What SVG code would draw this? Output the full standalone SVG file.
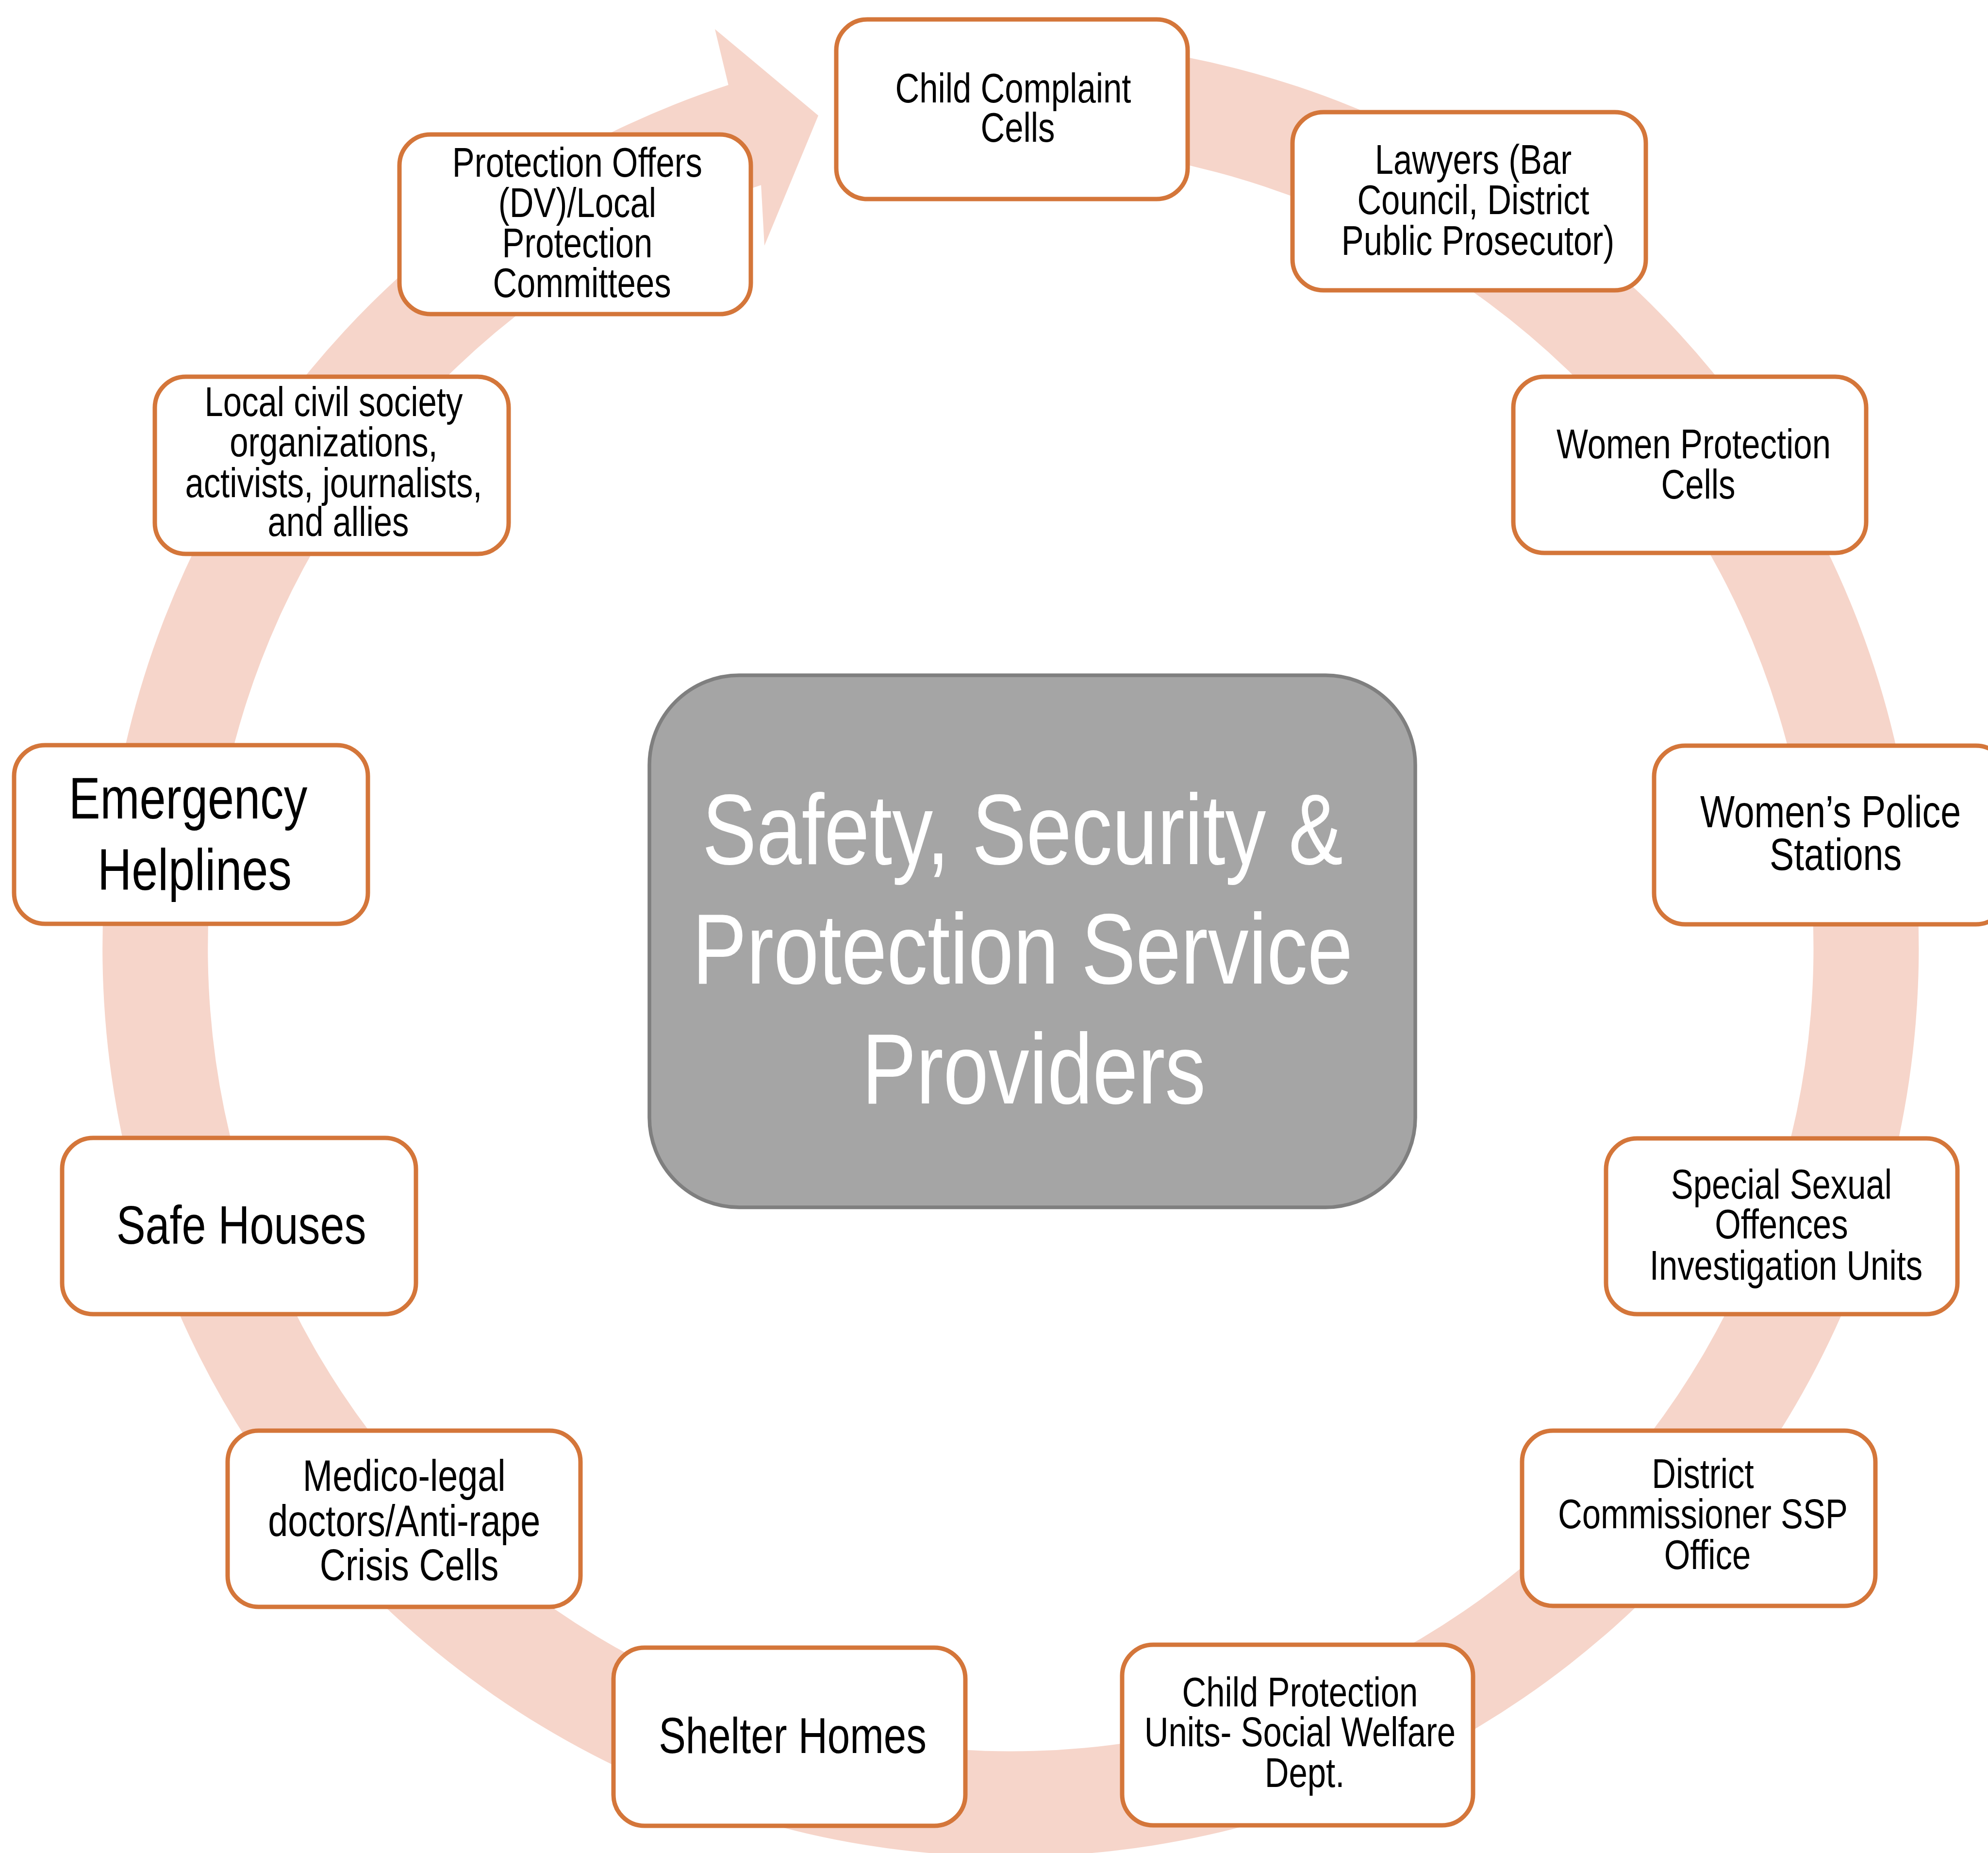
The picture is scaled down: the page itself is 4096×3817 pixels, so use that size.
<svg xmlns="http://www.w3.org/2000/svg" width="4096" height="3817" viewBox="0 0 4096 3817">
  <style>
    .box { fill: #ffffff; stroke: #D4763A; stroke-width: 9; }
    .hub { fill: #A5A5A5; stroke: #7F7F7F; stroke-width: 7.5; }
    .ring { fill: #F6D5CA; stroke: none; }
    .t { font-family: "Liberation Sans", Arial, sans-serif; fill: #000000; text-anchor: middle; font-size: 85px; }
    .hubt { font-family: "Liberation Sans", Arial, sans-serif; fill: #ffffff; text-anchor: middle; font-size: 207px; }
  </style>
  <rect x="0" y="0" width="4096" height="3817" fill="#ffffff"/>

  <!-- circular arrow running clockwise round the hub -->
  <g id="connectors">
    <path class="ring" d="M 1854.0 96.3 A 1871.1 1871.1 0 1 1 1500.7 175.0 L 1473 60 L 1686 238 L 1575 506 L 1568.1 381.3 A 1654.1 1654.1 0 1 0 1880.4 311.7 Z"/>
  </g>

  <!-- central hub -->
  <g id="hub">
    <rect class="hub" x="1338" y="1391" width="1578" height="1096" rx="185"/>
    <text class="hubt" transform="translate(2130 0) scale(0.81 1)">
      <tspan x="0" y="1780">Safety, Security &amp;</tspan>
      <tspan x="0" y="2026">Protection Service</tspan>
      <tspan x="0" y="2273">Providers</tspan>
    </text>
  </g>

  <g id="child-complaint-cells">
    <rect class="box" x="1723" y="40" width="724" height="370" rx="64"/>
    <text class="t" transform="translate(2097 0) scale(0.81 1)">
      <tspan x="0" y="211">Child Complaint</tspan>
      <tspan x="0" y="292">Cells</tspan>
    </text>
  </g>

  <g id="lawyers">
    <rect class="box" x="2663" y="231" width="728" height="367" rx="64"/>
    <text class="t" transform="translate(3045 0) scale(0.81 1)">
      <tspan x="0" y="358">Lawyers (Bar</tspan>
      <tspan x="0" y="441">Council, District</tspan>
      <tspan x="0" y="525">Public Prosecutor)</tspan>
    </text>
  </g>

  <g id="women-protection-cells">
    <rect class="box" x="3118" y="776" width="727" height="363" rx="64"/>
    <text class="t" transform="translate(3499 0) scale(0.81 1)">
      <tspan x="0" y="944">Women Protection</tspan>
      <tspan x="0" y="1027">Cells</tspan>
    </text>
  </g>

  <g id="womens-police-stations">
    <rect class="box" x="3408" y="1536" width="727" height="368" rx="64"/>
    <text class="t" style="font-size:93px" transform="translate(3782 0) scale(0.81 1)">
      <tspan x="0" y="1704">Women’s Police</tspan>
      <tspan x="0" y="1792">Stations</tspan>
    </text>
  </g>

  <g id="special-sexual-offences">
    <rect class="box" x="3309" y="2345" width="724" height="362" rx="64"/>
    <text class="t" transform="translate(3680 0) scale(0.81 1)">
      <tspan x="0" y="2469">Special Sexual</tspan>
      <tspan x="0" y="2551">Offences</tspan>
      <tspan x="0" y="2636">Investigation Units</tspan>
    </text>
  </g>

  <g id="district-commissioner">
    <rect class="box" x="3136" y="2947" width="728" height="361" rx="64"/>
    <text class="t" transform="translate(3518 0) scale(0.81 1)">
      <tspan x="0" y="3065">District</tspan>
      <tspan x="0" y="3148">Commissioner SSP</tspan>
      <tspan x="0" y="3232">Office</tspan>
    </text>
  </g>

  <g id="child-protection-units">
    <rect class="box" x="2312" y="3388" width="723" height="372" rx="64"/>
    <text class="t" transform="translate(2688 0) scale(0.81 1)">
      <tspan x="0" y="3515">Child Protection</tspan>
      <tspan x="0" y="3597">Units- Social Welfare</tspan>
      <tspan x="0" y="3681">Dept.</tspan>
    </text>
  </g>

  <g id="shelter-homes">
    <rect class="box" x="1264" y="3394" width="725" height="367" rx="64"/>
    <text class="t" style="font-size:103px" transform="translate(1633 0) scale(0.81 1)">
      <tspan x="0" y="3611">Shelter Homes</tspan>
    </text>
  </g>

  <g id="medico-legal">
    <rect class="box" x="469" y="2947" width="727" height="363" rx="64"/>
    <text class="t" style="font-size:91px" transform="translate(843 0) scale(0.81 1)">
      <tspan x="0" y="3071">Medico-legal</tspan>
      <tspan x="0" y="3164">doctors/Anti-rape</tspan>
      <tspan x="0" y="3255">Crisis Cells</tspan>
    </text>
  </g>

  <g id="safe-houses">
    <rect class="box" x="128" y="2344" width="729" height="363" rx="64"/>
    <text class="t" style="font-size:111px" transform="translate(497 0) scale(0.81 1)">
      <tspan x="0" y="2562">Safe Houses</tspan>
    </text>
  </g>

  <g id="emergency-helplines">
    <rect class="box" x="29" y="1535" width="729" height="368" rx="64"/>
    <text class="t" style="font-size:120px" transform="translate(401 0) scale(0.81 1)">
      <tspan x="0" y="1686">Emergency</tspan>
      <tspan x="0" y="1833">Helplines</tspan>
    </text>
  </g>

  <g id="local-civil-society">
    <rect class="box" x="319" y="776" width="729" height="365" rx="64"/>
    <text class="t" transform="translate(697 0) scale(0.81 1)">
      <tspan x="0" y="857">Local civil society</tspan>
      <tspan x="0" y="940">organizations,</tspan>
      <tspan x="0" y="1024">activists, journalists,</tspan>
      <tspan x="0" y="1104">and allies</tspan>
    </text>
  </g>

  <g id="protection-offers">
    <rect class="box" x="823" y="277" width="724" height="370" rx="64"/>
    <text class="t" transform="translate(1199 0) scale(0.81 1)">
      <tspan x="0" y="364">Protection Offers</tspan>
      <tspan x="0" y="447">(DV)/Local</tspan>
      <tspan x="0" y="530">Protection</tspan>
      <tspan x="0" y="612">Committees</tspan>
    </text>
  </g>
</svg>
